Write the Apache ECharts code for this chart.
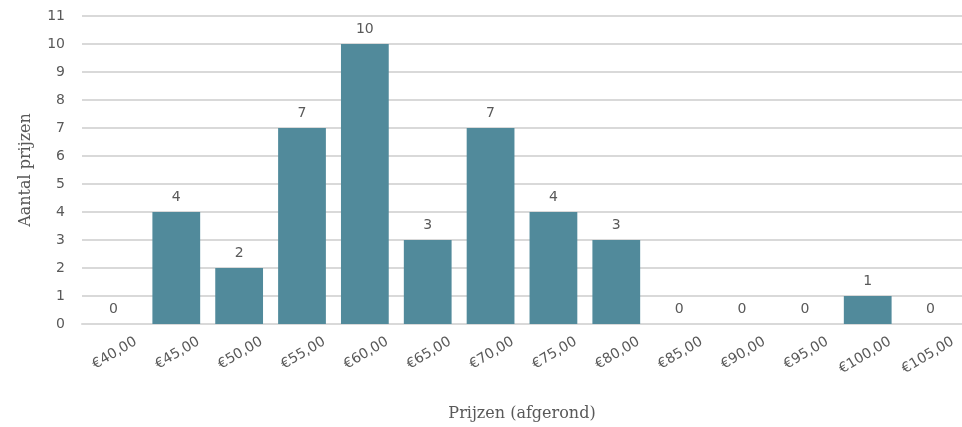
<!DOCTYPE html>
<html>
<head>
<meta charset="utf-8">
<script src="https://cdn.jsdelivr.net/npm/echarts@6/dist/echarts.min.js"></script>
<style>
  html, body { margin: 0; padding: 0; background: #fff; }
  #chart { width: 962px; height: 427px; }
</style>
</head>
<body>
<div id="chart"></div>
<script>
// prijsklassen (afgerond) en aantallen
const categories = ['€40,00', '€45,00', '€50,00', '€55,00', '€60,00', '€65,00', '€70,00',
  '€75,00', '€80,00', '€85,00', '€90,00', '€95,00', '€100,00', '€105,00'];
const counts = [0, 4, 2, 7, 10, 3, 7, 4, 3, 0, 0, 0, 1, 0];

const textColor = '#595959';
const chart = echarts.init(document.getElementById('chart'));

chart.setOption({
  animation: false,
  grid: { left: 82, right: 0, top: 16, bottom: 103, outerBoundsMode: 'none', containLabel: false },
  xAxis: {
    type: 'category',
    data: categories,
    name: 'Prijzen (afgerond)',
    nameLocation: 'middle',
    nameGap: 82,
    nameTextStyle: { fontFamily: 'DejaVu Serif', fontSize: 16, color: textColor },
    axisLine: { show: true, lineStyle: { color: '#d9d9d9', width: 2 } },
    axisTick: { show: false },
    axisLabel: {
      rotate: 31,
      interval: 0,
      color: textColor,
      fontFamily: 'DejaVu Sans',
      fontSize: 14,
      margin: 30,
      padding: [0, -26, 0, 0]
    }
  },
  yAxis: {
    type: 'value',
    min: 0,
    max: 11,
    interval: 1,
    name: 'Aantal prijzen',
    nameLocation: 'middle',
    nameGap: 48,
    nameTextStyle: { fontFamily: 'DejaVu Serif', fontSize: 16, color: textColor },
    axisLine: { show: false },
    axisTick: { show: false },
    axisLabel: { color: textColor, fontFamily: 'DejaVu Sans', fontSize: 14, margin: 17 },
    splitLine: { lineStyle: { color: '#d9d9d9', width: 2 } }
  },
  series: [{
    type: 'bar',
    data: counts,
    barCategoryGap: '24%',
    itemStyle: { color: '#518a9b' },
    label: {
      show: true,
      position: 'top',
      distance: 8,
      color: textColor,
      fontFamily: 'DejaVu Sans',
      fontSize: 14
    }
  }]
});
</script>
</body>
</html>
